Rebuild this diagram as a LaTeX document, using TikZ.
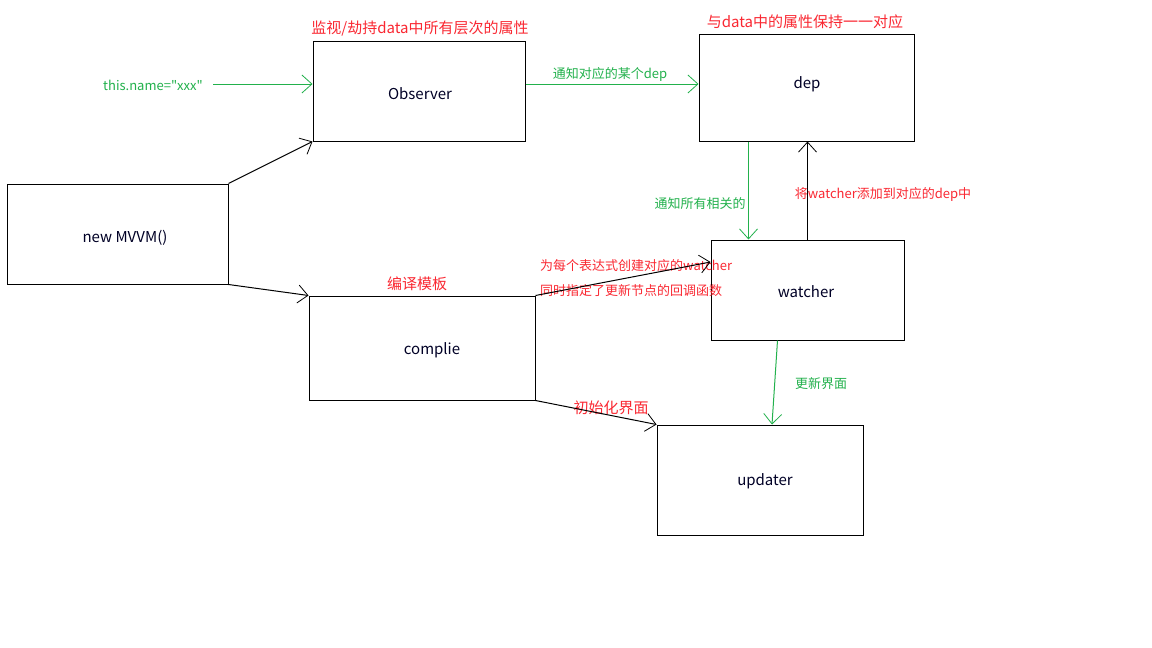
\documentclass[tikz,border=0pt]{standalone}
\usepackage{fontspec}
\setmainfont{Noto Sans CJK SC}[Ligatures=TeXOff]
\usetikzlibrary{arrows.meta,calc}
\definecolor{pgreen}{RGB}{34,177,76}
\definecolor{pred}{RGB}{250,40,50}
\tikzset{
  box/.style={draw=black, line width=1pt, rectangle, inner sep=0pt},
  boxtext/.style={inner sep=0pt, font=\fontsize{15}{18}\selectfont, text=black!85!blue},
  lab/.style={inner sep=0pt, font=\fontsize{13}{15}\selectfont},
  biglab/.style={inner sep=0pt, font=\fontsize{15}{18}\selectfont},
  conn/.style={line width=1pt, -{Straight Barb[length=10pt,width=18pt,line width=0.8pt]}},
  gconn/.style={conn, draw=pgreen},
  bconn/.style={conn, draw=black}
}
\begin{document}
\begin{tikzpicture}[x=1pt,y=-1pt]
\useasboundingbox (0,0) rectangle (1152,648);
\fill[white] (0,0) rectangle (1152,648);

% boxes
\node[box, minimum width=212pt, minimum height=100pt] (obs) at (419,91) {};
\node[box, minimum width=215pt, minimum height=107pt] (dep) at (806.5,87.5) {};
\node[box, minimum width=221pt, minimum height=100pt] (mvvm) at (117.5,234) {};
\node[box, minimum width=226pt, minimum height=104pt] (comp) at (422,348) {};
\node[box, minimum width=193pt, minimum height=100pt] (watch) at (807.5,290) {};
\node[box, minimum width=206pt, minimum height=110pt] (upd) at (760,480) {};

% box texts
\node[boxtext] (obst) at (420,93.5) {Observer};
\node[boxtext] (dept) at (807,84) {dep};
\node[boxtext] (mvvmt) at (125,237.5) {new MVVM()};
\node[boxtext] (compt) at (432,350.5) {complie};
\node[boxtext] (watcht) at (806,291.5) {watcher};
\node[boxtext] (updt) at (765,481.5) {updater};

% labels
\node[biglab, text=pred] (t1) at (420,29) {监视/劫持data中所有层次的属性};
\node[biglab, text=pred] (t2) at (805,22) {与data中的属性保持一一对应};
\node[lab, text=pgreen] (this) at (153,85) {this.name="xxx"};
\node[lab, text=pgreen] (l1) at (610,74) {通知对应的某个dep};
\node[lab, text=pgreen] (l2) at (700,204) {通知所有相关的};
\node[lab, text=pred] (l3) at (883,194) {将watcher添加到对应的dep中};
\node[biglab, text=pred] (l4) at (417,284) {编译模板};
\node[lab, text=pred, anchor=west] (l5) at (540,266) {为每个表达式创建对应的watcher};
\node[lab, text=pred, anchor=west] (l6) at (540,291) {同时指定了更新节点的回调函数};
\node[biglab, text=pred] (l7) at (611,408) {初始化界面};
\node[lab, text=pgreen] (l8) at (821,384) {更新界面};

% connectors
\coordinate (thisend) at (213,84);
\draw[gconn] (thisend) -- (thisend -| obs.west);
\draw[gconn] ([yshift=7pt]obs.east) -- ([yshift=7pt]obs.east -| dep.west);
\draw[bconn] (mvvm.north east) -- (obs.south west);
\draw[bconn] (mvvm.south east) -- (comp.north west);
\draw[bconn] (comp.north east) -- ([yshift=28pt]watch.west);
\draw[bconn] (comp.south east) -- (upd.north west);
\draw[gconn] ([xshift=-58pt]dep.south) -- ([xshift=-58pt]dep.south |- watch.north);
\draw[bconn] (watch.north) -- (watch.north |- dep.south);
\draw[gconn] ([xshift=-30pt]watch.south) -- ([xshift=12pt]upd.north);
\end{tikzpicture}
\end{document}
